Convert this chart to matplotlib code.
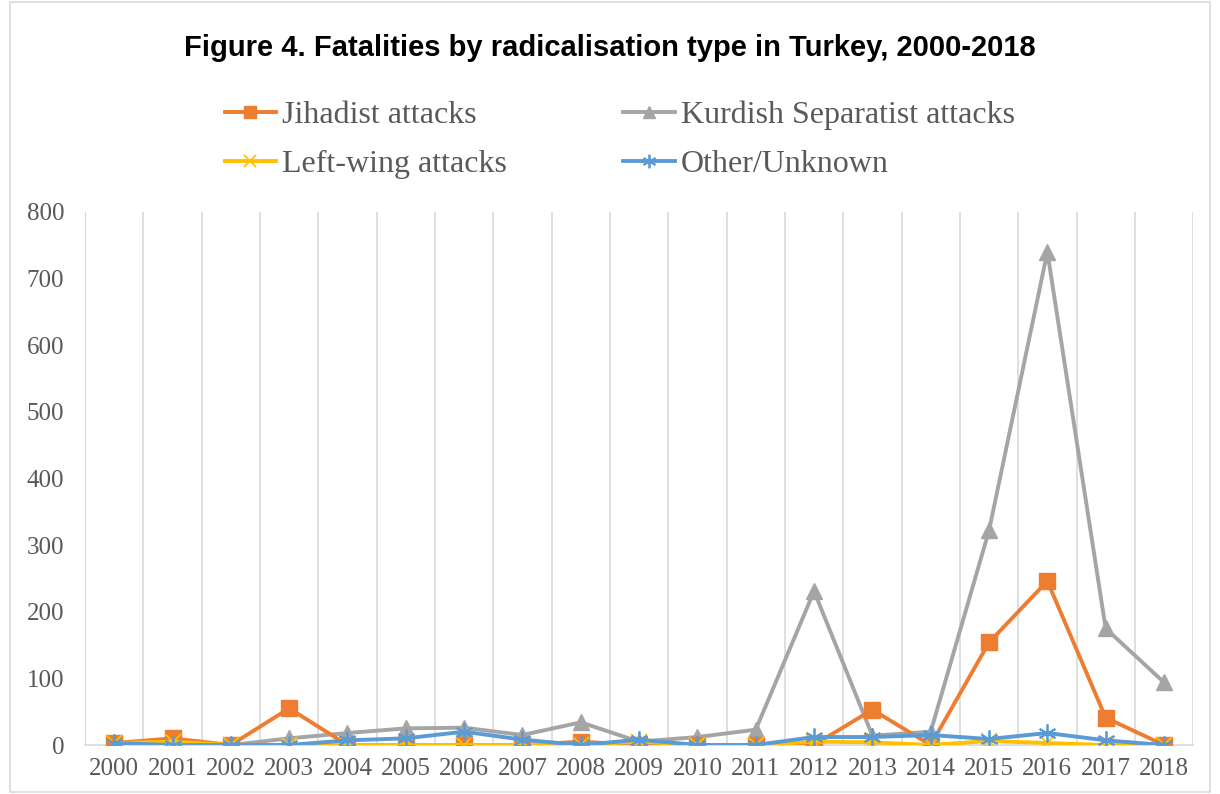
import matplotlib.pyplot as plt
from matplotlib.patches import Rectangle

years = list(range(2000, 2019))
year_labels = [str(y) for y in years]

jihadist = [3, 10, 0, 55, 0, 0, 0, 0, 5, 0, 0, 0, 0, 53, 0, 154, 246, 41, 0]
kurdish = [3, 0, 0, 10, 18, 25, 26, 15, 34, 5, 12, 23, 231, 14, 20, 322, 740, 175, 94]
leftwing = [3, 5, 0, 0, 0, 0, 0, 0, 0, 5, 0, 0, 5, 4, 0, 6, 3, 0, 0]
other = [3, 0, 0, 0, 7, 10, 20, 8, 0, 8, 0, 0, 12, 12, 15, 9, 18, 7, 0]

serif = ['Liberation Serif', 'DejaVu Serif']

fig = plt.figure(figsize=(12.2, 7.94), dpi=100)
ax = fig.add_axes([0.0697, 0.0617, 0.9083, 0.6713])

x = list(range(len(years)))
lw = 2.8
l1, = ax.plot(x, jihadist, color='#ED7D31', lw=lw, marker='s', ms=12, label='Jihadist attacks', zorder=3)
l2, = ax.plot(x, kurdish, color='#A5A5A5', lw=lw, marker='^', ms=12, label='Kurdish Separatist attacks', zorder=2)
l3, = ax.plot(x, leftwing, color='#FFC000', lw=lw, marker='x', ms=11, mew=1.3, label='Left-wing attacks', zorder=4)
l4, = ax.plot(x, other, color='#5B9BD5', lw=lw, marker=(6, 2, 0), ms=13, mew=1.3, label='Other/Unknown', zorder=5)

# vertical gridlines between categories
for b in range(len(years) + 1):
    ax.axvline(b - 0.5, color='#D9D9D9', lw=1.2, zorder=0)

ax.set_xlim(-0.5, len(years) - 0.5)
ax.set_ylim(0, 800)
ax.set_yticks(range(0, 801, 100))
ax.set_xticks(x)
ax.set_xticklabels(year_labels, fontfamily=serif, fontsize=18, color='#595959')
for lab in ax.get_yticklabels():
    lab.set_fontfamily(serif)
    lab.set_fontsize(18)
    lab.set_color('#595959')
ax.tick_params(axis='x', length=0, pad=9)
ax.tick_params(axis='y', length=0, pad=15)
for s in ['top', 'right']:
    ax.spines[s].set_visible(False)
ax.spines['left'].set_color('#D9D9D9')
ax.spines['bottom'].set_color('#D9D9D9')
ax.spines['bottom'].set_linewidth(1.2)

fig.text(0.5, 0.94, 'Figure 4. Fatalities by radicalisation type in Turkey, 2000-2018',
         ha='center', va='center', fontsize=21, fontweight='bold', family='Liberation Sans')

# order so that rows read Jihadist/Kurdish, Left-wing/Other
leg = fig.legend([l1, l3, l2, l4], [l1.get_label(), l3.get_label(), l2.get_label(), l4.get_label()],
                 loc='upper center', bbox_to_anchor=(0.508, 0.91), ncol=2, frameon=False,
                 prop={'family': serif, 'size': 23}, handlelength=1.6, handletextpad=0.2,
                 columnspacing=3.65, labelspacing=0.62, markerscale=0.75)
for t in leg.get_texts():
    t.set_color('#595959')

fig.patches.append(Rectangle((0.008, 0.003), 0.984, 0.994, transform=fig.transFigure,
                             fill=False, edgecolor='#D9D9D9', lw=1.2))

fig.savefig('out.png', dpi=100)
